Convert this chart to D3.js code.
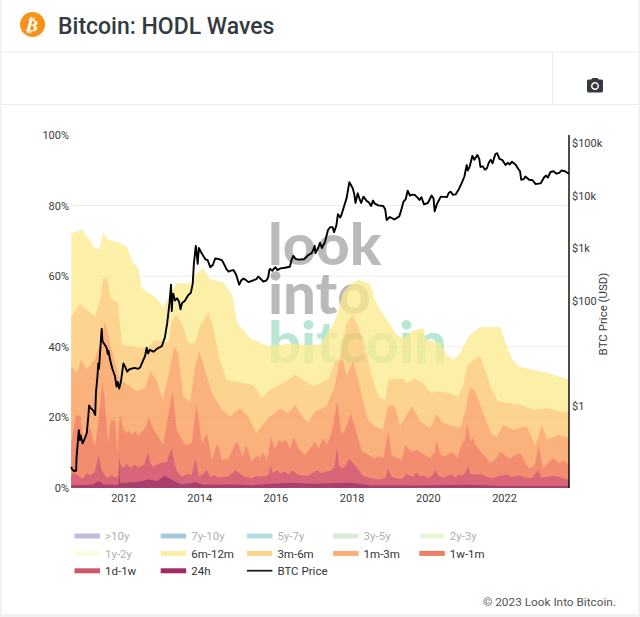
<!DOCTYPE html>
<html><head><meta charset="utf-8">
<script src="https://cdn.jsdelivr.net/npm/d3@7"></script>
<style>
html,body{margin:0;padding:0;background:#fff}
svg{display:block}
text{font-family:Roboto,sans-serif}
</style></head><body><div id="chart"></div>
<script>
// Each series: [decimal year, cumulative top edge in % of supply]
const m6m12 = [[2010.64,72.2],[2010.80,72.6],[2010.92,73.3],[2011.00,72],[2011.09,70.8],[2011.20,69],[2011.31,67.6],[2011.40,68.4],[2011.48,72.4],[2011.61,70.3],[2011.75,70],[2011.92,69.5],[2012.10,68.4],[2012.27,63.7],[2012.40,62.3],[2012.49,56.6],[2012.71,55],[2012.88,53.8],[2013.05,51.2],[2013.23,54.7],[2013.41,58],[2013.76,58],[2013.86,59.9],[2014.10,62.3],[2014.28,59.2],[2014.63,58.2],[2014.87,54.7],[2015.00,46.7],[2015.34,42.5],[2015.77,40.3],[2016.10,40.5],[2016.46,41],[2016.64,40.6],[2017.17,40.6],[2017.50,46],[2017.62,49],[2017.77,55.2],[2017.96,57.5],[2018.17,59],[2018.48,58],[2018.61,53.3],[2018.80,49.5],[2018.96,47.2],[2019.18,43.4],[2019.35,42.4],[2019.58,44.3],[2019.87,45.3],[2019.97,42],[2020.32,41],[2020.50,37.7],[2020.67,36.3],[2020.85,38.2],[2021.02,42],[2021.20,44.3],[2021.40,45.6],[2021.90,45.6],[2022.03,41.5],[2022.20,36.8],[2022.37,34.4],[2022.76,33.5],[2023.20,32.5],[2023.42,31.6],[2023.705,30.8]];
const m3m6 = [[2010.64,48.6],[2010.87,52.2],[2011.00,51],[2011.26,48.6],[2011.40,53.3],[2011.48,59.4],[2011.60,59.2],[2011.66,53.8],[2011.87,52.4],[2011.97,40.6],[2012.27,40],[2012.63,39.6],[2012.84,41.8],[2013.03,41.5],[2013.20,41],[2013.28,47.6],[2013.41,49],[2013.58,45.8],[2013.71,41],[2013.89,41],[2014.02,45.8],[2014.24,49.7],[2014.36,45.8],[2014.54,36.3],[2014.72,30.7],[2015.07,29.9],[2015.42,29.2],[2015.65,25.5],[2015.86,27.8],[2016.20,29.7],[2016.52,32],[2016.75,30.5],[2016.99,28.8],[2017.17,29.7],[2017.40,31],[2017.56,35.8],[2017.70,37],[2017.86,46.7],[2018.03,49],[2018.17,45.8],[2018.35,40],[2018.53,31.6],[2018.70,25.9],[2018.88,25],[2018.96,30.7],[2019.35,31],[2019.45,29.7],[2019.66,31],[2019.87,29.7],[2020.10,26.9],[2020.23,27.5],[2020.58,26.9],[2020.79,25.9],[2020.92,28.8],[2021.05,34.9],[2021.20,36.3],[2021.38,37.3],[2021.50,33.5],[2021.68,27.8],[2021.85,24.5],[2022.16,24],[2022.42,23.6],[2022.76,22.2],[2023.15,22.6],[2023.47,21.7],[2023.705,21.4]];
const m1m3 = [[2010.64,34.4],[2010.78,32.5],[2010.90,36.3],[2011.04,33.5],[2011.26,36.3],[2011.40,41],[2011.53,47.2],[2011.66,41],[2011.79,35.4],[2011.92,30.7],[2012.18,28.8],[2012.36,27.4],[2012.58,28.3],[2012.71,33],[2012.88,30.7],[2013.04,25],[2013.19,31.6],[2013.34,40.1],[2013.45,38.2],[2013.58,25.9],[2013.76,24.2],[2013.89,34.4],[2014.00,38.7],[2014.10,35.4],[2014.33,26.9],[2014.59,22.2],[2014.81,20.3],[2015.07,22.6],[2015.28,20.3],[2015.50,15.6],[2015.77,19.3],[2016.12,22.6],[2016.33,21.2],[2016.52,23.6],[2016.70,20.3],[2016.85,18.4],[2017.04,21.7],[2017.34,23.1],[2017.56,28.8],[2017.67,35.8],[2017.77,36.3],[2017.87,31.8],[2018.03,35.8],[2018.17,31],[2018.30,24.5],[2018.43,19.3],[2018.61,17.5],[2018.82,16.5],[2018.96,23.6],[2019.14,23.1],[2019.27,17.5],[2019.45,20.8],[2019.58,23.1],[2019.80,18.9],[2020.06,17],[2020.23,20.8],[2020.40,18.4],[2020.85,17],[2020.98,21.7],[2021.10,28.3],[2021.22,27.8],[2021.42,22.2],[2021.68,15.1],[2021.81,14.6],[2021.98,17.9],[2022.24,16.5],[2022.60,17.5],[2022.82,11.8],[2022.99,17.9],[2023.13,13.7],[2023.42,15.1],[2023.705,14.2]];
const w1m1 = [[2010.64,12.6],[2010.77,20.7],[2010.89,20.2],[2010.95,12.6],[2011.13,17.4],[2011.26,11.7],[2011.35,18.3],[2011.46,30],[2011.52,25],[2011.61,12.6],[2011.68,19.2],[2011.79,19.2],[2011.85,10.3],[2011.92,21],[2012.00,16.9],[2012.08,15.6],[2012.15,16.2],[2012.23,15],[2012.31,15.9],[2012.42,14.8],[2012.53,16.4],[2012.60,17.2],[2012.68,20.2],[2012.75,17.8],[2012.84,15.9],[2013.06,12.2],[2013.17,19.7],[2013.30,27.3],[2013.41,16.4],[2013.63,12.2],[2013.80,12.6],[2013.93,23.5],[2014.07,12.6],[2014.20,15.5],[2014.33,7.9],[2014.48,12.6],[2014.60,7.9],[2014.77,8.4],[2014.95,12.6],[2015.00,13.1],[2015.14,8.9],[2015.23,12.2],[2015.37,7.5],[2015.52,9.2],[2015.60,8.5],[2015.67,10.3],[2015.78,7.9],[2015.89,14.5],[2015.98,11.2],[2016.10,13.6],[2016.18,12.8],[2016.26,13.8],[2016.39,11.2],[2016.48,14.5],[2016.61,11.2],[2016.78,9.3],[2016.90,11],[2017.04,13.1],[2017.13,11.2],[2017.26,14],[2017.35,12.2],[2017.48,15.9],[2017.62,24.4],[2017.74,15],[2017.83,16.4],[2017.98,21.1],[2018.13,15.5],[2018.27,10.3],[2018.40,9.6],[2018.60,8.4],[2018.72,9],[2018.83,8.4],[2018.96,15.9],[2019.05,9.3],[2019.32,7.9],[2019.41,12.2],[2019.50,10.9],[2019.58,10.3],[2019.72,10.8],[2019.85,9.8],[2020.07,8.4],[2020.18,10.2],[2020.23,13.6],[2020.30,10.4],[2020.38,8.9],[2020.50,9.2],[2020.64,10.3],[2020.77,8.4],[2020.90,12.6],[2020.97,13.5],[2021.03,18.3],[2021.12,13.1],[2021.17,14.4],[2021.24,12.4],[2021.38,10.3],[2021.50,9.1],[2021.65,7],[2021.80,8.5],[2021.91,10.3],[2022.05,8.9],[2022.17,8.4],[2022.30,9.4],[2022.43,9.8],[2022.55,7.4],[2022.65,5.6],[2022.80,6.2],[2022.91,12.2],[2023.02,5.6],[2023.15,7],[2023.28,8.4],[2023.45,7],[2023.58,7.8],[2023.705,6.2]];
const d1w1 = [[2010.64,3.4],[2010.72,4.4],[2010.80,3.6],[2010.95,2.6],[2011.05,4.2],[2011.15,3.6],[2011.26,4.6],[2011.36,9.3],[2011.44,5.1],[2011.58,2.7],[2011.70,3.6],[2011.80,2.9],[2011.88,3.6],[2011.90,8.9],[2011.93,6.8],[2012.00,5.6],[2012.10,6.9],[2012.20,5.6],[2012.30,6.6],[2012.40,5.8],[2012.55,6.6],[2012.66,10.2],[2012.72,7],[2012.78,6],[2012.92,6.8],[2013.05,7.2],[2013.15,7.4],[2013.27,11.2],[2013.35,7],[2013.42,4.6],[2013.55,3.2],[2013.70,4],[2013.80,3.6],[2013.90,8.3],[2014.00,3.2],[2014.10,4],[2014.20,5.2],[2014.30,3.2],[2014.40,3.6],[2014.50,2.9],[2014.77,3.3],[2014.95,5],[2015.05,4.2],[2015.20,3.2],[2015.37,2.7],[2015.50,3.4],[2015.60,3.2],[2015.75,3.4],[2015.83,4],[2015.87,6.5],[2015.93,4.2],[2016.05,5],[2016.12,4.2],[2016.25,4.6],[2016.35,3.9],[2016.45,5],[2016.55,4.1],[2016.65,3.6],[2016.85,3.4],[2017.00,4.4],[2017.10,5],[2017.20,4.1],[2017.30,4.6],[2017.45,4.9],[2017.55,6],[2017.62,11.6],[2017.67,6.4],[2017.75,5.6],[2017.85,6.4],[2017.93,8.3],[2018.05,6.8],[2018.15,5.6],[2018.30,3.4],[2018.50,2.8],[2018.70,2.4],[2018.90,2.9],[2018.95,5.6],[2019.05,3.2],[2019.20,2.6],[2019.35,2.7],[2019.42,4],[2019.50,3.6],[2019.60,3.2],[2019.70,4.4],[2019.78,3.4],[2019.90,3.5],[2020.00,3],[2020.12,3.6],[2020.20,5],[2020.28,3.4],[2020.40,3],[2020.50,3.4],[2020.62,3.8],[2020.72,3],[2020.80,3.8],[2020.92,3.6],[2021.00,4.6],[2021.05,6.2],[2021.12,4],[2021.25,3.8],[2021.40,4],[2021.55,3.2],[2021.70,2.7],[2021.85,3.4],[2022.05,3.8],[2022.20,3.1],[2022.40,3.6],[2022.55,2.9],[2022.72,2.8],[2022.90,5],[2022.97,2.8],[2023.12,3.2],[2023.30,3.4],[2023.50,3],[2023.705,2.3]];
const h24 = [[2010.64,0.8],[2011.20,0.9],[2011.36,2],[2011.50,0.9],[2011.88,0.9],[2011.895,3],[2011.90,8.6],[2011.91,3],[2011.93,1.4],[2012.30,1.6],[2012.50,1.9],[2012.66,2.5],[2012.90,2],[2013.09,3.5],[2013.20,2.8],[2013.30,2.2],[2013.55,1],[2013.90,1.6],[2014.10,0.9],[2014.90,1],[2015.40,0.8],[2015.90,1.2],[2016.40,1.5],[2017.00,1.2],[2017.62,1.4],[2018.00,1.5],[2018.50,0.7],[2019.40,0.7],[2020.20,0.8],[2021.10,0.9],[2022.00,0.6],[2023.705,0.6]];
const priceSeries = [[2010.64,0.068],[2010.66,0.062],[2010.70,0.057],[2010.77,0.057],[2010.78,0.1],[2010.84,0.34],[2010.87,0.22],[2010.89,0.27],[2010.94,0.19],[2011.00,0.24],[2011.05,0.3],[2011.09,0.62],[2011.11,1],[2011.16,0.88],[2011.22,0.8],[2011.27,0.66],[2011.29,1.8],[2011.33,3.6],[2011.35,6.3],[2011.37,5],[2011.44,29],[2011.46,17],[2011.48,16],[2011.53,14],[2011.57,12.6],[2011.60,9.5],[2011.62,11],[2011.66,7.5],[2011.72,5],[2011.79,3.6],[2011.83,2.3],[2011.86,2.8],[2011.90,2.1],[2011.95,3],[2012.01,6.3],[2012.05,5.6],[2012.11,4.4],[2012.17,4.9],[2012.30,5.2],[2012.40,5],[2012.45,5.3],[2012.52,7],[2012.58,8.8],[2012.62,12.6],[2012.66,9.8],[2012.70,11.5],[2012.80,10.6],[2012.92,12.4],[2013.02,13.5],[2013.10,20],[2013.16,37],[2013.22,90],[2013.26,200],[2013.28,63],[2013.30,115],[2013.32,135],[2013.36,100],[2013.42,110],[2013.47,95],[2013.51,68],[2013.55,90],[2013.62,98],[2013.71,126],[2013.78,140],[2013.83,210],[2013.86,500],[2013.91,1100],[2013.94,700],[2013.96,500],[2013.99,1000],[2014.05,830],[2014.12,680],[2014.17,600],[2014.22,590],[2014.29,430],[2014.36,480],[2014.42,630],[2014.50,620],[2014.60,580],[2014.66,480],[2014.72,390],[2014.77,355],[2014.83,370],[2014.90,380],[2014.97,310],[2015.05,200],[2015.10,240],[2015.16,263],[2015.21,250],[2015.29,224],[2015.40,240],[2015.50,255],[2015.55,285],[2015.60,265],[2015.68,230],[2015.76,240],[2015.81,275],[2015.84,380],[2015.86,400],[2015.92,370],[2016.00,430],[2016.05,380],[2016.13,410],[2016.25,420],[2016.38,440],[2016.42,580],[2016.47,710],[2016.53,620],[2016.60,600],[2016.75,610],[2016.85,720],[2016.95,800],[2017.00,950],[2017.03,1100],[2017.05,800],[2017.12,1000],[2017.17,1260],[2017.22,1000],[2017.30,1300],[2017.38,2200],[2017.44,2500],[2017.50,2500],[2017.54,2000],[2017.60,2700],[2017.64,4400],[2017.70,3800],[2017.73,4200],[2017.81,6500],[2017.87,9000],[2017.94,18000],[2018.00,15000],[2018.03,13800],[2018.07,10500],[2018.10,7200],[2018.16,11000],[2018.21,8500],[2018.25,7200],[2018.31,9500],[2018.40,7800],[2018.45,7400],[2018.51,6300],[2018.56,8000],[2018.60,7100],[2018.70,6500],[2018.83,6300],[2018.88,5500],[2018.92,3400],[2019.00,3900],[2019.12,3500],[2019.25,4000],[2019.30,5200],[2019.36,7600],[2019.42,8500],[2019.47,12400],[2019.53,10000],[2019.59,10400],[2019.66,10200],[2019.73,9100],[2019.78,8200],[2019.83,9300],[2019.90,6800],[2020.00,7200],[2020.10,10000],[2020.15,8800],[2020.18,5000],[2020.24,6900],[2020.34,9500],[2020.50,9300],[2020.55,11200],[2020.60,11800],[2020.66,10300],[2020.73,10500],[2020.82,13500],[2020.90,18000],[2020.96,23000],[2021.02,38000],[2021.05,30000],[2021.10,36000],[2021.17,57000],[2021.22,48000],[2021.30,59000],[2021.35,50000],[2021.38,35000],[2021.44,36000],[2021.50,31000],[2021.55,33000],[2021.60,42000],[2021.65,48000],[2021.70,41000],[2021.77,61000],[2021.82,64000],[2021.88,50000],[2021.96,47000],[2022.04,38000],[2022.10,42000],[2022.15,39000],[2022.21,44000],[2022.30,39000],[2022.39,31000],[2022.42,29000],[2022.45,20000],[2022.52,20500],[2022.56,23000],[2022.66,20000],[2022.75,19500],[2022.83,16500],[2022.90,16800],[2022.96,17000],[2023.05,22000],[2023.10,24000],[2023.15,22000],[2023.22,28000],[2023.30,29000],[2023.38,26000],[2023.45,27000],[2023.51,30000],[2023.60,29000],[2023.705,26000]];

const legendLabels = [">10y","7y-10y","5y-7y","3y-5y","2y-3y","1y-2y","6m-12m","3m-6m","1m-3m","1w-1m","1d-1w","24h","BTC Price"];
const legendColors = ["#c3b9dc","#a9c9e1","#b5e1dd","#d4ecd9","#e9f5d6","#fbfde0","#fdeca6","#fdd38d","#f9ae78","#ec7e66","#d0566f","#a22b64","#222"];
const legendHidden = [">10y","7y-10y","5y-7y","3y-5y","2y-3y","1y-2y"];
const yearTicks = [2012,2014,2016,2018,2020,2022];
const pctTicks = [0,20,40,60,80,100];
const priceTicks = [1,100,1000,10000,100000];
const priceLabels = ["$1","$100","$1k","$10k","$100k"];
const bands = [
  {data:m6m12,fill:"#fceb8c"},{data:m3m6,fill:"#fcc66c"},{data:m1m3,fill:"#fa9850"},
  {data:w1m1,fill:"#f06740"},{data:d1w1,fill:"#d0324c"},{data:h24,fill:"#8b003b"}];

const W=640,H=617;
const svg=d3.select("#chart").append("svg").attr("width",W).attr("height",H);
const x=d3.scaleLinear().domain([2010.635,2023.705]).range([71,569]);
const y=d3.scaleLinear().domain([0,100]).range([488,135]);
const yP=d3.scaleLog().domain([1,100000]).range([405.5,143]);

// page frame
svg.append("rect").attr("width",W).attr("height",H).attr("fill","#f1f2f5");
svg.append("rect").attr("x",2).attr("y",0).attr("width",636).attr("height",614).attr("fill","#fff");
[[2,52,638,52],[2,104.5,638,104.5],[552.5,52,552.5,104]].forEach(l=>svg.append("line")
  .attr("x1",l[0]).attr("y1",l[1]).attr("x2",l[2]).attr("y2",l[3]).attr("stroke","#e9ecef"));
svg.append("circle").attr("cx",32.5).attr("cy",24.5).attr("r",12.5).attr("fill","#f7931a");
svg.append("text").attr("x",32.5).attr("y",31).attr("text-anchor","middle")
  .attr("transform","rotate(14 32.5 24.5)").attr("fill","#fff")
  .style("font-family","'DejaVu Sans'").style("font-weight",700).style("font-size","17px").text("₿");
svg.append("text").attr("x",58).attr("y",33.5).attr("fill","#343a40")
  .style("font-weight",500).style("font-size","23px").text("Bitcoin: HODL Waves");
svg.append("path").attr("transform","translate(585.4,76.4) scale(.8)").attr("fill","#343a40").attr("fill-rule","evenodd")
  .attr("d","M9 2L7.17 4H4c-1.1 0-2 .9-2 2v12c0 1.1.9 2 2 2h16c1.1 0 2-.9 2-2V6c0-1.1-.9-2-2-2h-3.17L15 2H9zm3 15c-2.76 0-5-2.24-5-5s2.24-5 5-5 5 2.24 5 5-2.24 5-5 5z");
svg.append("circle").attr("cx",595).attr("cy",86).attr("r",2.5).attr("fill","#343a40");

// grid
svg.append("g").selectAll("line").data(pctTicks.slice(1,5)).join("line")
  .attr("x1",71).attr("x2",569).attr("y1",d=>y(d)).attr("y2",d=>y(d)).attr("stroke","#ececec");

// watermark (one text with three lines), shows faintly through the bands
const wm=svg.append("text").style("font-family","Lato,sans-serif").style("font-weight",900).style("font-size","58px");
wm.append("tspan").attr("x",268).attr("y",265).attr("fill","#000").attr("fill-opacity",.27).text("look");
wm.append("tspan").attr("x",268).attr("y",314).attr("fill","#000").attr("fill-opacity",.27).text("into");
wm.append("tspan").attr("x",268).attr("y",363).attr("fill","#2fb67c").attr("fill-opacity",.33).text("bitcoin");

// stacked bands: painted top edge first, each one to the baseline
const area=d3.area().x(d=>x(d[0])).y0(y(0)).y1(d=>y(d[1]));
svg.append("g").attr("opacity",.75).selectAll("path").data(bands).join("path").attr("d",d=>area(d.data)).attr("fill",d=>d.fill);

// price
svg.append("path").datum(priceSeries).attr("fill","none").attr("stroke","#000").attr("stroke-width",1.9)
  .attr("stroke-linejoin","round").attr("d",d3.line().x(d=>x(d[0])).y(d=>yP(d[1])));

// axes
function styleAxis(g){g.selectAll("text").attr("fill","#3a3a3a").style("font-size","11px").style("font-family","Roboto,sans-serif");}
const ax=svg.append("g").attr("transform","translate(0,488)").call(d3.axisBottom(x).tickValues(yearTicks).tickFormat(d3.format("d")).tickSize(0).tickPadding(6));
ax.select(".domain").remove();styleAxis(ax);
const al=svg.append("g").attr("transform","translate(71,0)").call(d3.axisLeft(y).tickValues(pctTicks).tickFormat(d=>d+"%").tickSize(0).tickPadding(2));
al.select(".domain").remove();styleAxis(al);
const ar=svg.append("g").attr("transform","translate(569,0)").call(d3.axisRight(yP).tickValues(priceTicks).tickFormat((d,i)=>priceLabels[i]).tickSize(0).tickPadding(3));
ar.select(".domain").remove();styleAxis(ar);
svg.append("line").attr("x1",569).attr("x2",569).attr("y1",135).attr("y2",488).attr("stroke","#000").attr("stroke-width",1.4);
svg.append("text").attr("transform","translate(607,314) rotate(-90)").attr("text-anchor","middle").attr("fill","#3a3a3a")
  .style("font-size","11.5px").text("BTC Price (USD)");

// legend
const lg=svg.append("g").selectAll("g").data(legendLabels).join("g")
  .attr("transform",(d,i)=>`translate(${74.5+(i%5)*86.2},${536+Math.floor(i/5)*17.4})`);
lg.append("rect").attr("y",d=>d==="BTC Price"?-1:-2.5).attr("width",25.5).attr("height",d=>d==="BTC Price"?1.8:5)
  .attr("fill",(d,i)=>legendColors[i]);
lg.append("text").attr("x",30.5).attr("y",4.2).attr("fill",d=>legendHidden.includes(d)?"#b0b0b0":"#333")
  .style("font-size","11.5px").text(d=>d);
svg.append("text").attr("x",616).attr("y",606).attr("text-anchor","end").attr("fill","#555")
  .style("font-size","11.8px").text("© 2023 Look Into Bitcoin.");
</script></body></html>
